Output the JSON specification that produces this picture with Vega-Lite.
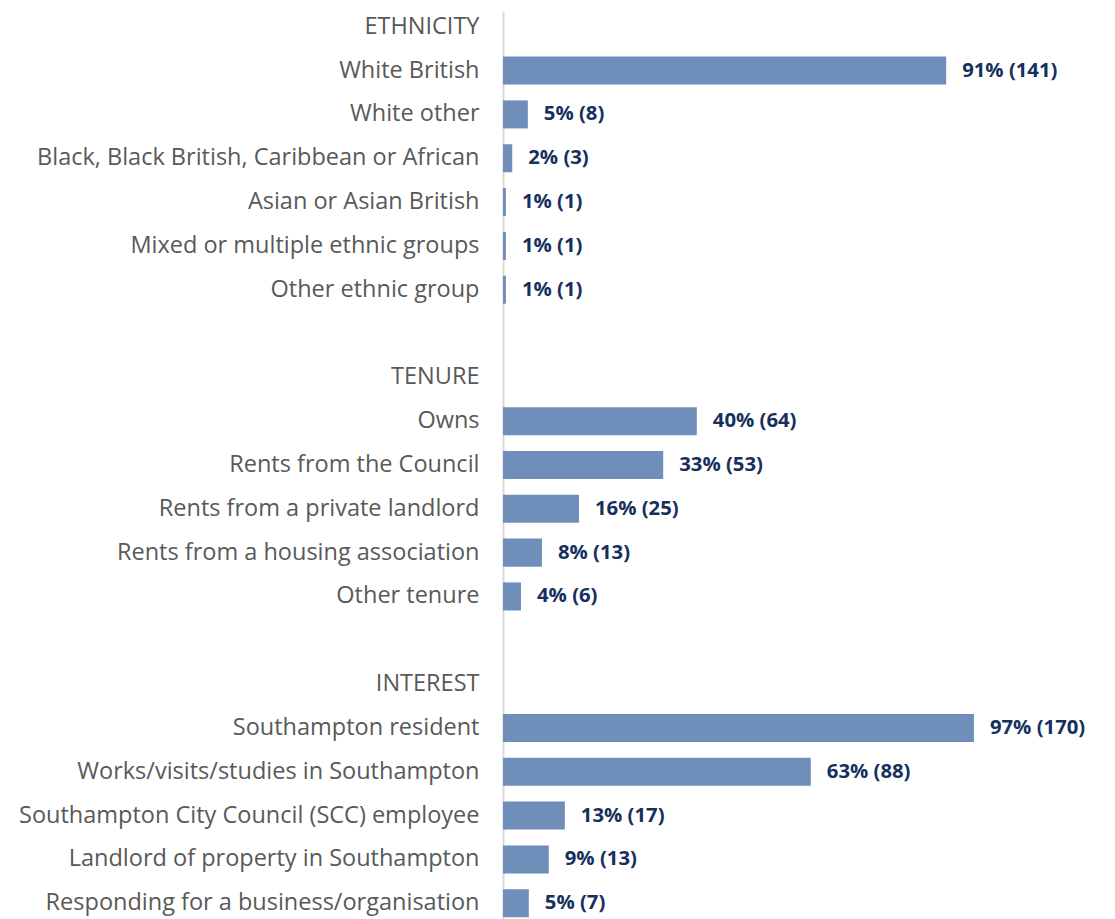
{
  "$schema": "https://vega.github.io/schema/vega-lite/v6.json",
  "autosize": {"type": "none"},
  "width": 487,
  "height": 908,
  "padding": {"left": 503, "top": 11, "right": 125, "bottom": 0},
  "background": "white",
  "config": {"view": {"stroke": null}},
  "data": {
    "values": [
      {"category": "ETHNICITY", "pct": null, "label": ""},
      {"category": "White British", "pct": 91.0, "label": "91% (141)"},
      {"category": "White other", "pct": 5.1, "label": "5% (8)"},
      {"category": "Black, Black British, Caribbean or African", "pct": 1.9, "label": "2% (3)"},
      {"category": "Asian or Asian British", "pct": 0.6, "label": "1% (1)"},
      {"category": "Mixed or multiple ethnic groups", "pct": 0.6, "label": "1% (1)"},
      {"category": "Other ethnic group", "pct": 0.6, "label": "1% (1)"},
      {"category": " ", "pct": null, "label": ""},
      {"category": "TENURE", "pct": null, "label": ""},
      {"category": "Owns", "pct": 39.8, "label": "40% (64)"},
      {"category": "Rents from the Council", "pct": 32.9, "label": "33% (53)"},
      {"category": "Rents from a private landlord", "pct": 15.6, "label": "16% (25)"},
      {"category": "Rents from a housing association", "pct": 8.0, "label": "8% (13)"},
      {"category": "Other tenure", "pct": 3.7, "label": "4% (6)"},
      {"category": "  ", "pct": null, "label": ""},
      {"category": "INTEREST", "pct": null, "label": ""},
      {"category": "Southampton resident", "pct": 96.7, "label": "97% (170)"},
      {"category": "Works/visits/studies in Southampton", "pct": 63.2, "label": "63% (88)"},
      {"category": "Southampton City Council (SCC) employee", "pct": 12.7, "label": "13% (17)"},
      {"category": "Landlord of property in Southampton", "pct": 9.4, "label": "9% (13)"},
      {"category": "Responding for a business/organisation", "pct": 5.3, "label": "5% (7)"}
    ]
  },
  "encoding": {
    "y": {
      "field": "category",
      "type": "nominal",
      "sort": null,
      "scale": {
        "domain": ["ETHNICITY", "White British", "White other", "Black, Black British, Caribbean or African", "Asian or Asian British", "Mixed or multiple ethnic groups", "Other ethnic group", " ", "TENURE", "Owns", "Rents from the Council", "Rents from a private landlord", "Rents from a housing association", "Other tenure", "  ", "INTEREST", "Southampton resident", "Works/visits/studies in Southampton", "Southampton City Council (SCC) employee", "Landlord of property in Southampton", "Responding for a business/organisation"],
        "paddingInner": 0.36,
        "paddingOuter": 0.04
      },
      "axis": {
        "title": null,
        "ticks": false,
        "labelPadding": 24,
        "labelFont": "Open Sans",
        "labelFontSize": 23.5,
        "labelColor": "#595959",
        "labelLimit": 600,
        "domainColor": "#D9D9D9",
        "domainWidth": 2
      }
    },
    "x": {
      "field": "pct",
      "type": "quantitative",
      "scale": {"domain": [0, 100]},
      "axis": null
    }
  },
  "layer": [
    {"mark": {"type": "bar", "color": "#6F8FBA"}},
    {
      "mark": {
        "type": "text",
        "align": "left",
        "baseline": "middle",
        "dx": 16,
        "font": "Open Sans",
        "fontSize": 20.3,
        "fontWeight": "bold",
        "color": "#16305E"
      },
      "encoding": {"text": {"field": "label"}}
    }
  ]
}
